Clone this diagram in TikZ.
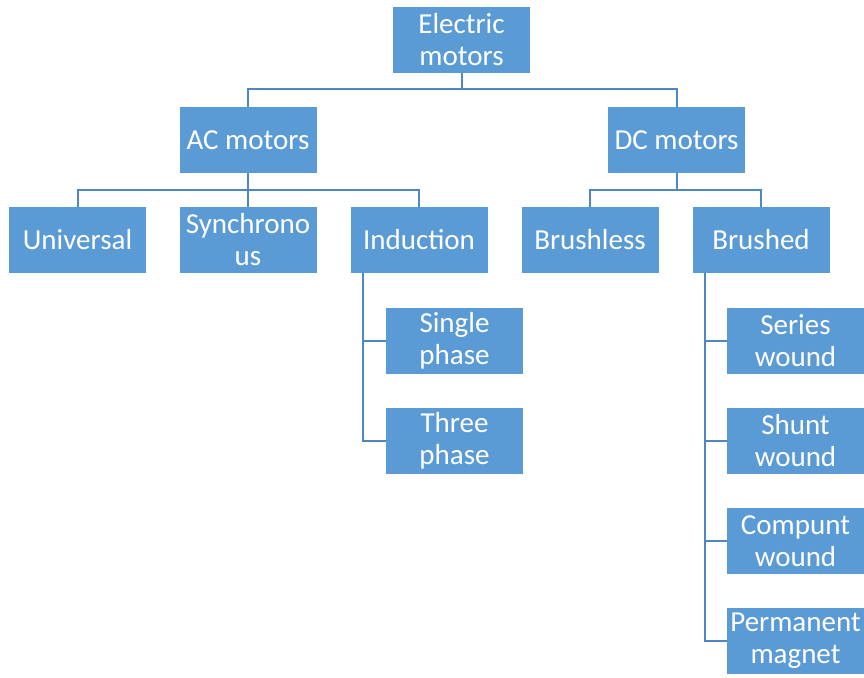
\documentclass[tikz,border=0pt]{standalone}
\usepackage{fontspec}
\setmainfont{Carlito}
\usetikzlibrary{positioning}
\definecolor{boxfill}{HTML}{5B9BD5}
\definecolor{linecol}{HTML}{4F87C2}
\tikzset{
  box/.style={fill=boxfill, draw=none, minimum width=137pt, minimum height=66pt, inner sep=0pt,
    text=white, align=center, font=\fontsize{29}{32}\selectfont},
  conn/.style={draw=linecol, line width=2pt}
}
\begin{document}
\begin{tikzpicture}[x=1pt,y=-1pt]
\useasboundingbox (0,0) rectangle (864,677);
\node[box] (em) at (461.5,40) {Electric\\motors};
\node[box] (ac) at (248,140) {AC motors};
\node[box] (dc) at (676.5,140) {DC motors};
\node[box] (uni) at (77.5,240) {Universal};
\node[box] (syn) at (248,240) {Synchrono\\us};
\node[box] (ind) at (419,240) {Induction};
\node[box] (bl) at (590,240) {Brushless};
\node[box] (bd) at (761,240) {Brushed};
\node[box] (sp) at (454.5,341) {Single\\phase};
\node[box] (tp) at (454.5,441) {Three\\phase};
\node[box] (sw) at (795.5,341) {Series\\wound};
\node[box] (shw) at (795.5,441) {Shunt\\wound};
\node[box] (cw) at (795.5,541) {Compunt\\wound};
\node[box] (pm) at (795.5,641) {Permanent\\magnet};
\draw[conn] (em.south) -- ++(0,16) -| (ac.north);
\draw[conn] (em.south) -- ++(0,16) -| (dc.north);
\draw[conn] (ac.south) -- ++(0,17) -| (uni.north);
\draw[conn] (ac.south) -- ++(0,17) -| (syn.north);
\draw[conn] (ac.south) -- ++(0,17) -| (ind.north);
\draw[conn] (dc.south) -- ++(0,17) -| (bl.north);
\draw[conn] (dc.south) -- ++(0,17) -| (bd.north);
\draw[conn] ([xshift=13pt]ind.south west) |- (sp.west);
\draw[conn] ([xshift=13pt]ind.south west) |- (tp.west);
\draw[conn] ([xshift=13pt]bd.south west) |- (sw.west);
\draw[conn] ([xshift=13pt]bd.south west) |- (shw.west);
\draw[conn] ([xshift=13pt]bd.south west) |- (cw.west);
\draw[conn] ([xshift=13pt]bd.south west) |- (pm.west);
\end{tikzpicture}
\end{document}
